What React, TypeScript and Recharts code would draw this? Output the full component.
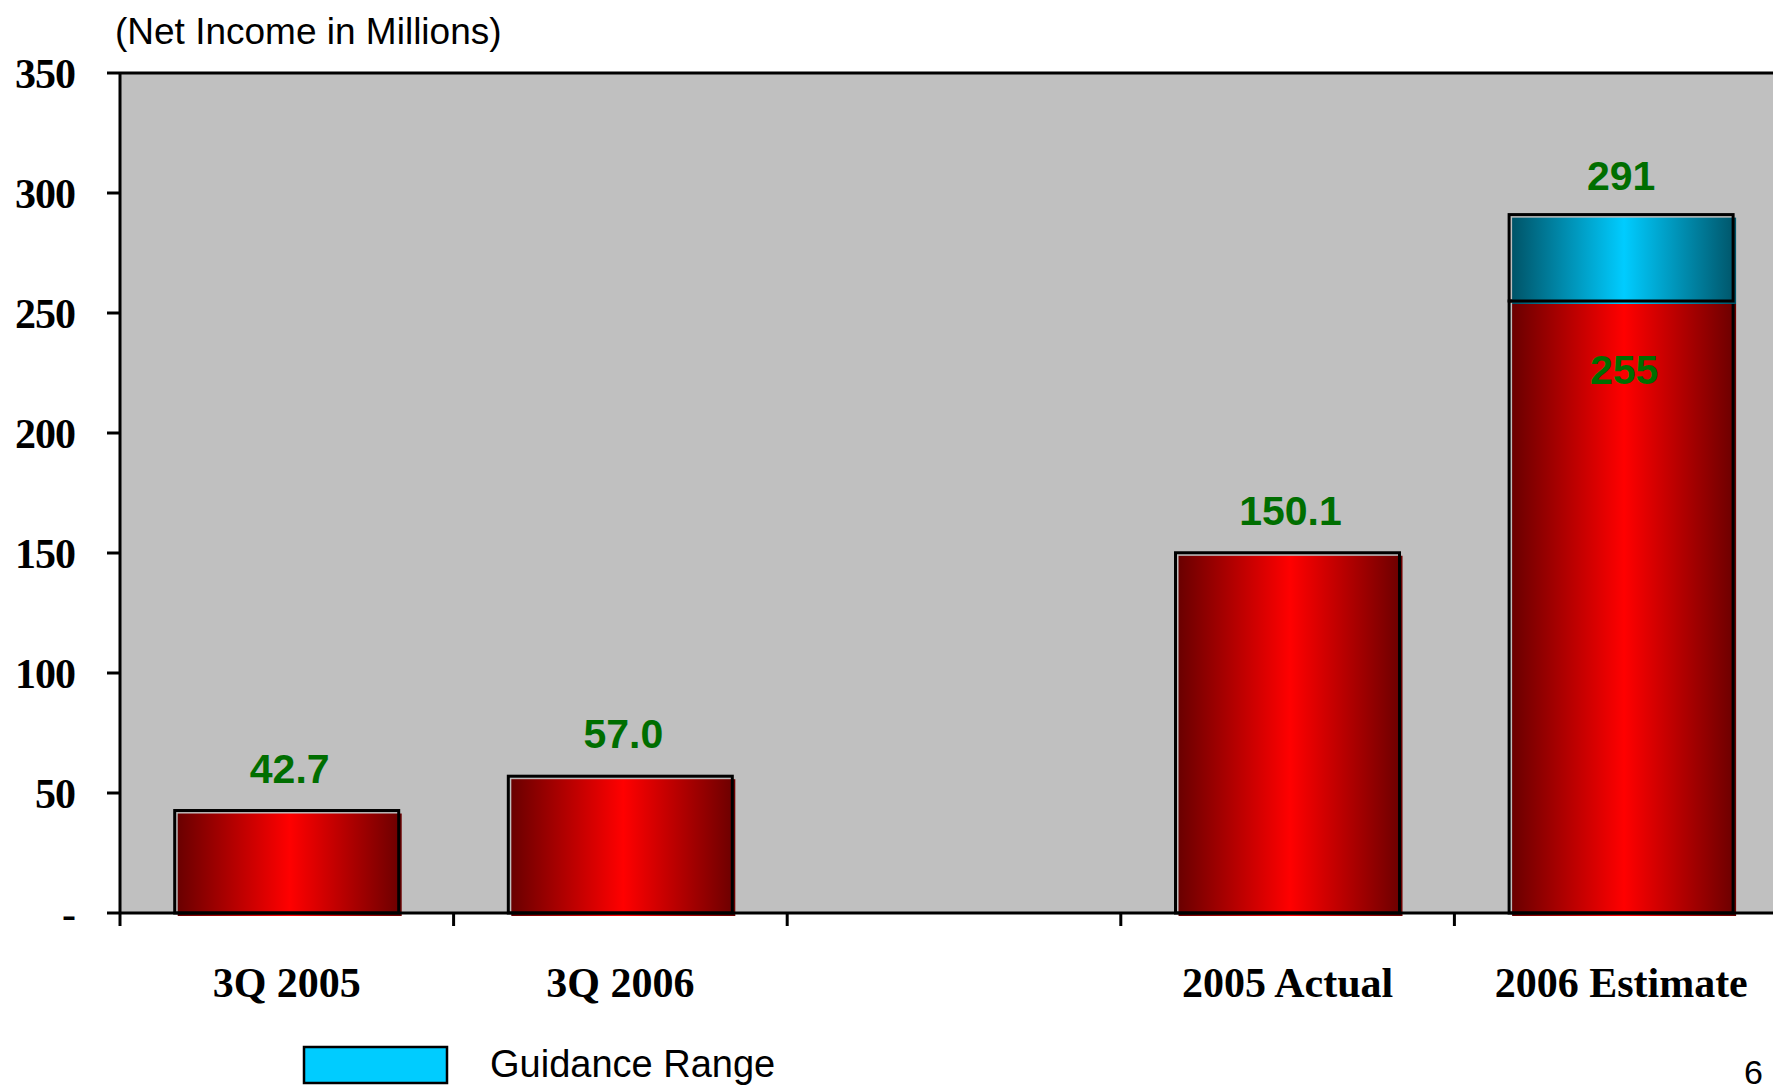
import { BarChart, Bar, XAxis, YAxis, CartesianGrid, ReferenceLine, LabelList } from 'recharts'

// Net income chart (millions), 2006 estimate with guidance range on top
const categories = ['3Q 2005', '3Q 2006', '', '2005 Actual', '2006 Estimate']
const netIncome = [42.7, 57.0, null, 150.1, 255]
const guidanceRange = [null, null, null, null, 36]
const netIncomeLabels = ['42.7', '57.0', '', '150.1', '255']
const guidanceLabels = ['', '', '', '', '291']
const yTicks = [0, 50, 100, 150, 200, 250, 300, 350]

const data = categories.map((name, i) => ({
  name,
  base: netIncome[i],
  guidance: guidanceRange[i],
}))

const CHART_W = 1800
const CHART_H = 1089
const MARGIN = { top: 73, right: 12, left: 0, bottom: 0 }
const Y_AXIS_W = 120
const X_AXIS_H = 176
const BAND = (CHART_W - MARGIN.left - MARGIN.right - Y_AXIS_W) / categories.length

const serif = '"Liberation Serif", "Times New Roman", serif'
const sans = '"Liberation Sans", Arial, sans-serif'
const GREEN = '#006E00'

// fill shifted a little right/down from its black outline, like the old slide
function makeShape(gradId: string) {
  return (props: any) => {
    const { x, y, width, height } = props
    if (!height || height <= 0) return <g />
    return (
      <g>
        <rect x={x + 3} y={y + 3} width={width} height={height} fill={`url(#${gradId})`} />
        <line x1={x + 3} y1={y + 2} x2={x + width - 2} y2={y + 2} stroke="#b8b8b8" strokeWidth={1} />
        <rect x={x} y={y} width={width} height={height} fill="none" stroke="#000" strokeWidth={3} />
      </g>
    )
  }
}

function XTick(props: any) {
  const { x, y, payload, index } = props
  const left = x - BAND / 2
  return (
    <g>
      <line x1={left} y1={y} x2={left} y2={y + 13} stroke="#000" strokeWidth={3} />
      <text x={x} y={y + 84} textAnchor="middle" fontFamily={serif} fontWeight="bold" fontSize={42} fill="#000">
        {categories[index] ?? payload.value}
      </text>
    </g>
  )
}

function baseLabel(props: any) {
  const { x, y, width, index } = props
  const text = netIncomeLabels[index]
  if (!text) return null
  // the 2006 base value sits inside its bar, under the guidance block
  const inside = guidanceRange[index] != null
  return (
    <text x={x + width / 2 + 3} y={inside ? y + 83 : y - 28} textAnchor="middle" fontFamily={sans} fontWeight="bold" fontSize={41} fill={GREEN}>
      {text}
    </text>
  )
}

function guidanceLabel(props: any) {
  const { x, y, width, index } = props
  const text = guidanceLabels[index]
  if (!text) return null
  return (
    <text x={x + width / 2} y={y - 25} textAnchor="middle" fontFamily={sans} fontWeight="bold" fontSize={41} fill={GREEN}>
      {text}
    </text>
  )
}

export default function App() {
  return (
    <div style={{ position: 'fixed', left: 0, top: 0, width: 1773, height: 1089, overflow: 'hidden', background: '#fff' }}>
      <BarChart width={CHART_W} height={CHART_H} data={data} margin={MARGIN} barCategoryGap="16.4%">
        <defs>
          <linearGradient id="redGrad" x1="0" y1="0" x2="1" y2="0">
            <stop offset="0" stopColor="#6a0000" />
            <stop offset="0.5" stopColor="#ff0000" />
            <stop offset="1" stopColor="#6a0000" />
          </linearGradient>
          <linearGradient id="cyanGrad" x1="0" y1="0" x2="1" y2="0">
            <stop offset="0" stopColor="#005468" />
            <stop offset="0.5" stopColor="#00ccff" />
            <stop offset="1" stopColor="#005468" />
          </linearGradient>
        </defs>
        <CartesianGrid horizontal={false} vertical={false} fill="#C0C0C0" />
        <XAxis
          dataKey="name"
          height={X_AXIS_H}
          axisLine={{ stroke: '#000', strokeWidth: 3 }}
          tickLine={false}
          tickSize={0}
          tickMargin={0}
          interval={0}
          tick={<XTick />}
        />
        <YAxis
          width={Y_AXIS_W}
          domain={[0, 350]}
          ticks={yTicks}
          interval={0}
          axisLine={{ stroke: '#000', strokeWidth: 3 }}
          tickLine={{ stroke: '#000', strokeWidth: 3 }}
          tickSize={13}
          tickMargin={32}
          tickFormatter={(v: number) => (v === 0 ? '-' : String(v))}
          tick={{ fontFamily: serif, fontWeight: 'bold', fontSize: 42, fill: '#000', letterSpacing: -1 }}
        />
        <ReferenceLine y={350} stroke="#000" strokeWidth={3} />
        <Bar dataKey="base" stackId="a" shape={makeShape('redGrad')} isAnimationActive={false}>
          <LabelList dataKey="base" content={baseLabel} />
        </Bar>
        <Bar dataKey="guidance" stackId="a" shape={makeShape('cyanGrad')} isAnimationActive={false}>
          <LabelList dataKey="guidance" content={guidanceLabel} />
        </Bar>
      </BarChart>
      <svg width={1773} height={1089} style={{ position: 'absolute', left: 0, top: 0, pointerEvents: 'none' }}>
        <text x={115} y={44} fontFamily={sans} fontSize={37} fill="#000">(Net Income in Millions)</text>
        <rect x={304} y={1047} width={143} height={36} fill="#00ccff" stroke="#000" strokeWidth={2.5} />
        <text x={490} y={1077} fontFamily={sans} fontSize={38} fill="#000">Guidance Range</text>
        <text x={1744} y={1084} fontFamily={sans} fontSize={34} fill="#000">6</text>
      </svg>
    </div>
  )
}
